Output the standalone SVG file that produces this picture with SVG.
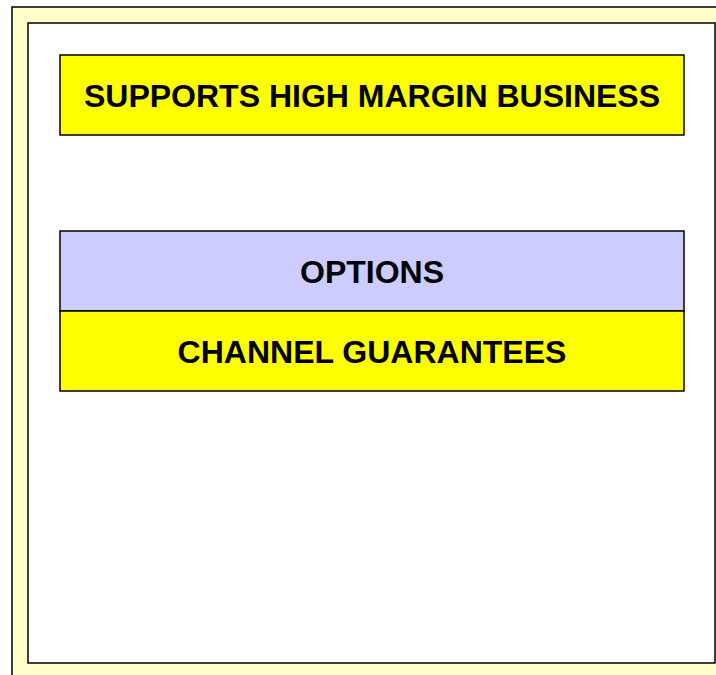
<svg xmlns="http://www.w3.org/2000/svg" width="716" height="675" viewBox="0 0 716 675">
<style>
.box{stroke:#000;stroke-width:1.5}
.y{fill:#ffff00}
.b{fill:#ccccff}
.t{font-family:"Liberation Sans",Arial,sans-serif;font-weight:bold;font-size:32px;fill:#000;text-anchor:middle}
</style>
<g id="frame">
<rect x="12" y="7" width="720" height="680" fill="#ffffcc" stroke="#000" stroke-width="1.5"/>
<rect x="28" y="23" width="687" height="640" fill="#fff" stroke="#000" stroke-width="1.5"/>
</g>
<g id="node-supports">
<rect class="box y" x="60" y="55" width="624" height="80"/>
<text class="t" x="372" y="107">SUPPORTS HIGH MARGIN BUSINESS</text>
</g>
<g id="node-options">
<rect class="box b" x="60" y="231" width="624" height="80"/>
<text class="t" x="372" y="283">OPTIONS</text>
</g>
<g id="node-channel">
<rect class="box y" x="60" y="311" width="624" height="80"/>
<text class="t" x="372" y="363">CHANNEL GUARANTEES</text>
</g>
<g id="connectors"></g>
</svg>
